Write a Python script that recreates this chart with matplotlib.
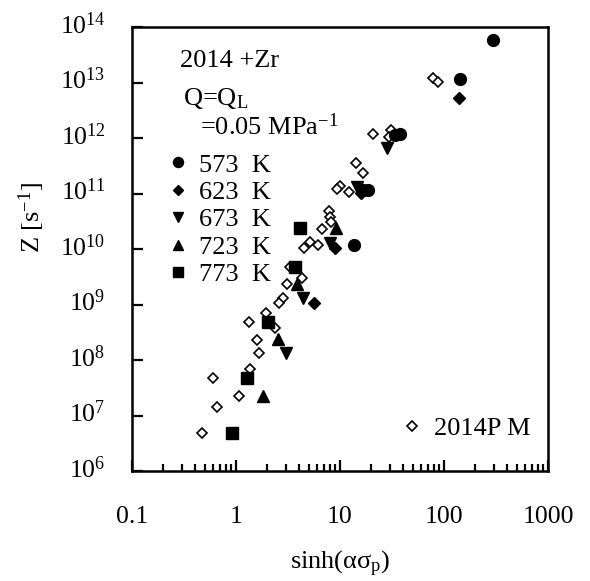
import matplotlib
matplotlib.use('Agg')
import matplotlib.pyplot as plt
from matplotlib.ticker import NullLocator, FixedLocator, FixedFormatter, LogLocator, LogFormatterSciNotation
from matplotlib.transforms import ScaledTranslation

plt.rcParams['font.family'] = ['Liberation Serif', 'DejaVu Serif']
plt.rcParams['mathtext.fontset'] = 'custom'
plt.rcParams['mathtext.rm'] = 'Liberation Serif'
plt.rcParams['mathtext.it'] = 'Liberation Serif:italic'
plt.rcParams['mathtext.bf'] = 'Liberation Serif:bold'

# 2014 + Zr, Z vs sinh(alpha*sigma_p)
x_573 = [294, 142, 33.8, 37.7, 16.7, 18.5, 13.7]
z_573 = [5.8e13, 1.16e13, 1.13e12, 1.18e12, 1.16e11, 1.16e11, 1.18e10]

x_623 = [140, 15.8, 8.95, 5.66]
z_623 = [5.2e12, 1.02e11, 1.03e10, 1.05e9]

x_673 = [28.5, 14.6, 8.0, 4.44, 3.03]
z_673 = [6.5e11, 1.31e11, 1.3e10, 1.29e9, 1.32e8]

x_723 = [9.1, 3.83, 2.55, 1.83]
z_723 = [2.36e10, 2.3e9, 2.4e8, 2.27e7]

x_773 = [4.1, 3.7, 2.05, 1.27, 0.91]
z_773 = [2.4e10, 4.7e9, 4.9e8, 4.7e7, 4.8e6]

# 2014 P/M reference data (open diamonds)
x_pm = [77.9, 88, 20.9, 30.9, 29.6, 14.3, 16.7, 10, 9.3, 12.2,
        7.9, 8.0, 8.2, 6.7, 4.5, 5.15, 6.1, 3.3, 4.3, 3.11,
        2.85, 2.59, 1.94, 1.34, 2.37, 1.58, 1.67, 1.36, 0.605, 1.08,
        0.652, 0.468]
z_pm = [1.19e13, 1.03e13, 1.17e12, 1.39e12, 1.06e12, 3.6e11, 2.3e11, 1.37e11, 1.19e11, 1.08e11,
        4.8e10, 3.7e10, 3.1e10, 2.26e10, 1.03e10, 1.36e10, 1.18e10, 4.8e9, 3.04e9, 2.3e9,
        1.33e9, 1.08e9, 6.9e8, 4.9e8, 3.8e8, 2.3e8, 1.36e8, 6.8e7, 4.7e7, 2.25e7,
        1.4e7, 4.8e6]

x_ticks = [0.1, 1, 10, 100, 1000]
x_ticklabels = ['0.1', '1', '10', '100', '1000']
y_ticks = [1e6, 1e7, 1e8, 1e9, 1e10, 1e11, 1e12, 1e13, 1e14]

FS = 19
TFS = 18.5

fig = plt.figure(figsize=(5.9, 5.81), dpi=100)
ax = fig.add_axes([0.2237, 0.1893, 0.7051, 0.7642])

pm, = ax.plot(x_pm, z_pm, 'D', ms=5.0, mfc='white', mec='black', mew=1.2, ls='none', label='2014P M')
h1, = ax.plot(x_573, z_573, 'o', ms=8.5, color='black', ls='none', label='573  K')
h2, = ax.plot(x_623, z_623, 'D', ms=6, color='black', ls='none', label='623  K')
h3, = ax.plot(x_673, z_673, 'v', ms=9, color='black', ls='none', label='673  K')
h4, = ax.plot(x_723, z_723, '^', ms=9, color='black', ls='none', label='723  K')
h5, = ax.plot(x_773, z_773, 's', ms=8, color='black', ls='none', label='773  K')

ax.set_xscale('log')
ax.set_yscale('log')
ax.set_xlim(0.1, 1000)
ax.set_ylim(1e6, 1e14)

ax.xaxis.set_major_locator(FixedLocator(x_ticks))
ax.xaxis.set_major_formatter(FixedFormatter(x_ticklabels))
ax.xaxis.set_minor_locator(LogLocator(base=10, subs=range(2, 10), numticks=20))
ax.yaxis.set_major_locator(FixedLocator(y_ticks))
ax.yaxis.set_major_formatter(LogFormatterSciNotation())
ax.yaxis.set_minor_locator(NullLocator())

for s in ax.spines.values():
    s.set_linewidth(1.8)
ax.tick_params(which='both', direction='in', top=False, right=False, width=1.6, labelsize=TFS)
ax.tick_params(axis='x', which='major', length=8, pad=25)
ax.tick_params(axis='x', which='minor', length=5)
ax.tick_params(axis='y', which='major', length=8, pad=19)

# y tick labels sit a little above their ticks in the original
shift = ScaledTranslation(0, 3 / 72, fig.dpi_scale_trans)
for lab in ax.get_yticklabels():
    lab.set_transform(lab.get_transform() + shift)

ax.set_xlabel('sinh(ασ$_\\mathrm{p}$)', fontsize=FS)
ax.xaxis.set_label_coords(0.5, -0.176)
ax.set_ylabel(r'Z [s$^{\mathrm{-1}}$]', fontsize=FS)
ax.yaxis.set_label_coords(-0.205, 0.572)

ax.text(0.115, 0.91, '2014 +Zr', transform=ax.transAxes, fontsize=FS, va='baseline')
ax.text(0.123, 0.824, r'Q=Q$_\mathrm{L}$', transform=ax.transAxes, fontsize=FS, va='baseline')
ax.text(0.163, 0.757, r'=0.05 MPa$^{\mathrm{-1}}$', transform=ax.transAxes, fontsize=FS, va='baseline')

leg1 = ax.legend(handles=[h1, h2, h3, h4, h5], loc='upper left', bbox_to_anchor=(0.08, 0.716),
                 frameon=False, fontsize=FS, borderpad=0, borderaxespad=0,
                 handlelength=1.0, handletextpad=0.27, labelspacing=0.15, markerscale=0.85)
ax.add_artist(leg1)
ax.legend(handles=[pm], loc='lower right', bbox_to_anchor=(0.957, 0.07), frameon=False,
          fontsize=FS, borderpad=0, borderaxespad=0, handlelength=1.0, handletextpad=0.3)

fig.savefig('out.png', dpi=100)
